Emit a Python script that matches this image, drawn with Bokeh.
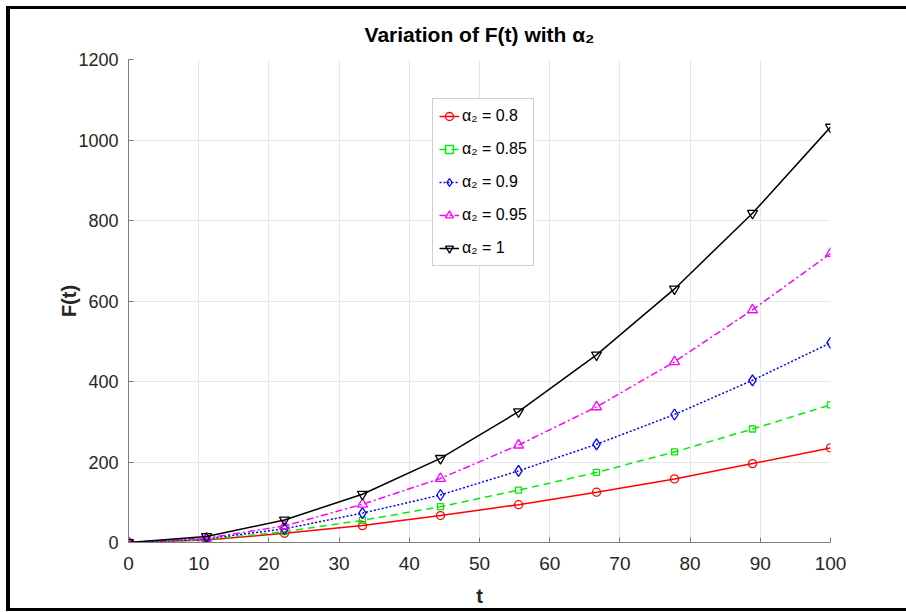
from bokeh.plotting import figure
from bokeh.models import Range1d, SingleIntervalTicker, Legend, LegendItem, InlineStyleSheet
from bokeh.embed import file_html
from bokeh.resources import INLINE

# ---- data ----
t = [0, 11.11, 22.22, 33.33, 44.44, 55.56, 66.67, 77.78, 88.89, 100]
f_080 = [0, 6, 23, 42, 67, 94, 125, 158, 196, 235]
f_085 = [0, 7, 27, 55, 89, 130, 174, 225, 282, 342]
f_090 = [0, 9, 34, 73, 118, 178, 244, 318, 403, 496]
f_095 = [0, 11, 41, 95, 159, 242, 337, 449, 578, 718]
f_100 = [0, 15, 56, 120, 209, 325, 466, 630, 818, 1032]
labels = ["α₂ = 0.8", "α₂ = 0.85", "α₂ = 0.9", "α₂ = 0.95", "α₂ = 1"]

FONT = "'Liberation Sans', Arial, sans-serif"

frame_css = InlineStyleSheet(css="""
:host {
  overflow: hidden;
  background:
    linear-gradient(#000, #000) 6px 6px / 4px 605px no-repeat,
    linear-gradient(#000, #000) 6px 6px / 900px 3px no-repeat,
    linear-gradient(#000, #000) 6px 608px / 900px 3px no-repeat,
    #ffffff;
}
""")

p = figure(width=906, height=612, output_backend="svg", toolbar_location=None,
           x_range=Range1d(0, 100), y_range=Range1d(0, 1200),
           min_border_left=128, min_border_right=76, min_border_top=59, min_border_bottom=70,
           background_fill_color="white", border_fill_color=None,
           stylesheets=[frame_css])
p.outline_line_color = None

p.title.text = "Variation of F(t) with α₂"
p.title.align = "center"
p.title.text_font = FONT
p.title.text_font_size = "21px"
p.title.text_font_style = "bold"
p.title.text_color = "#000000"
p.title.standoff = 27

p.xaxis.ticker = SingleIntervalTicker(interval=10)
p.yaxis.ticker = SingleIntervalTicker(interval=200)
for ax in (p.xaxis, p.yaxis):
    ax.major_tick_in = 5
    ax.major_tick_out = 0
    ax.minor_tick_line_color = None
    ax.axis_line_color = "#7a7a7a"
    ax.major_tick_line_color = "#7a7a7a"
    ax.major_label_text_font = FONT
    ax.major_label_text_font_size = "19px"
    ax.major_label_text_color = "#262626"
    ax.axis_label_text_font = FONT
    ax.axis_label_text_font_size = "20px"
    ax.axis_label_text_font_style = "bold"
    ax.axis_label_text_color = "#262626"
p.yaxis.major_label_text_font_size = "18px"
p.xaxis.axis_label = "t"
p.yaxis.axis_label = "F(t)"
p.xaxis.major_label_standoff = 10
p.yaxis.major_label_standoff = 6
p.xaxis.axis_label_standoff = 12
p.yaxis.axis_label_standoff = -5

p.grid.grid_line_color = "#e6e6e6"
p.grid.grid_line_width = 1

series = [
    (f_080, "#ff0000", "solid", "circle", 8),
    (f_085, "#00ee00", "7 5", "square", 6),
    (f_090, "#0000ff", "2 2", "diamond", 11),
    (f_095, "#ff00ff", "7 3 2 3", "triangle", 10),
    (f_100, "#000000", "solid", "inverted_triangle", 10),
]
items = []
for (vals, col, dash, mk, sz), lab in zip(series, labels):
    lr = p.line(t, vals, line_color=col, line_width=1.5, line_dash=dash)
    sr = p.scatter(t, vals, marker=mk, size=sz, line_color=col, line_width=1.3,
                   fill_color=None)
    items.append(LegendItem(label=lab, renderers=[lr, sr]))

legend = Legend(items=items, location=(304, 276), orientation="vertical")
legend.label_text_font = FONT
legend.label_text_font_size = "16px"
legend.label_text_color = "#000000"
legend.glyph_width = 20
legend.glyph_height = 20
legend.label_height = 22
legend.spacing = 11
legend.padding = 6
legend.margin = 0
legend.label_standoff = 3
legend.border_line_color = "#a0a0a0"
legend.border_line_width = 1
legend.background_fill_color = "white"
legend.background_fill_alpha = 1
p.add_layout(legend)

open("out.html", "w").write(file_html(p, INLINE))
